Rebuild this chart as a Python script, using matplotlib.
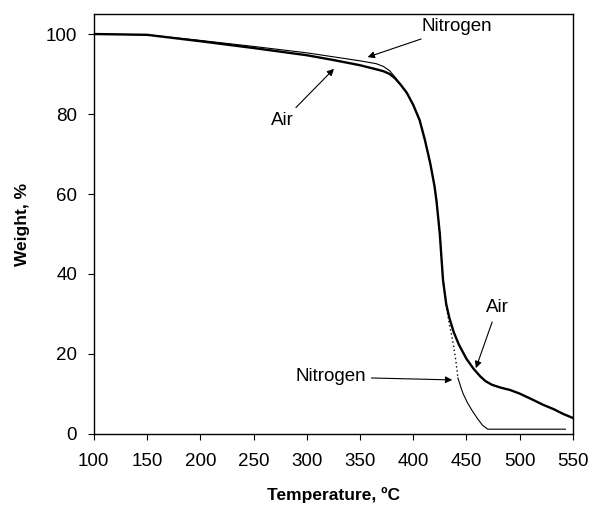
import matplotlib
matplotlib.use('Agg')
import matplotlib.pyplot as plt

plt.rcParams['font.family'] = ['Liberation Sans', 'DejaVu Sans']

# Air (thick line)
air_T = [100, 150, 200, 250, 300, 325, 350, 365, 372, 378, 383, 388, 394, 400, 406, 411, 416,
         420, 422, 425, 428, 431, 434, 438, 443, 450, 457, 463, 468, 474, 482, 491,
         500, 512, 522, 532, 541, 550]
air_W = [100, 99.8, 98.2, 96.5, 94.7, 93.5, 92.2, 91.2, 90.7, 90.0, 88.9, 87.4, 85.3, 82.3, 78.5, 73.5, 67.7,
         62.0, 58.0, 50.0, 38.5, 32.5, 29.0, 25.5, 22.3, 18.8, 16.2, 14.4, 13.2, 12.3, 11.6, 11.0,
         10.1, 8.6, 7.3, 6.2, 5.0, 4.0]

# Nitrogen (thin line, dotted where points are sparse)
n2_T = [100, 150, 200, 250, 300, 325, 350, 365, 372, 378, 383, 388, 394, 400, 406, 411, 416,
        420, 422, 425, 428, 431, 434, 437, 440, 442, 445, 447, 451, 455, 460, 465, 470, 480, 500, 543]
n2_W = [100, 99.8, 98.4, 96.9, 95.3, 94.3, 93.3, 92.6, 91.9, 90.8, 89.2, 87.4, 85.3, 82.3, 78.5, 73.5, 67.7,
        62.0, 58.0, 50.0, 38.5, 32.0, 27.5, 23.5, 18.5, 14.0, 11.5, 10.0, 7.8, 6.0, 4.0, 2.2, 1.2, 1.2, 1.2, 1.2]

x_ticks = [100, 150, 200, 250, 300, 350, 400, 450, 500, 550]
y_ticks = [0, 20, 40, 60, 80, 100]

fig = plt.figure(figsize=(5.9, 5.08), dpi=100)
ax = fig.add_axes([0.159, 0.1457, 0.812, 0.8267])

i1 = n2_T.index(425)
i2 = n2_T.index(442)
ax.plot(n2_T[:i1 + 1], n2_W[:i1 + 1], color='black', lw=0.8)
ax.plot(n2_T[i1:i2 + 1], n2_W[i1:i2 + 1], color='black', lw=1.0, ls=(0, (1, 2)))
ax.plot(n2_T[i2:], n2_W[i2:], color='black', lw=0.8)
ax.plot(air_T, air_W, color='black', lw=1.7)

ax.set_xlim(100, 550)
ax.set_ylim(0, 105)
ax.set_xticks(x_ticks)
ax.set_yticks(y_ticks)
ax.tick_params(direction='out', length=4, width=0.8, labelsize=13.5)
ax.tick_params(axis='x', pad=10)
ax.tick_params(axis='y', pad=8)
for s in ax.spines.values():
    s.set_linewidth(1.0)

ax.set_xlabel('Temperature, ºC', fontsize=12.5, fontweight='bold', labelpad=12)
ax.set_ylabel('Weight, %', fontsize=12.5, fontweight='bold', labelpad=11)

arr = dict(arrowstyle='-|>', color='black', lw=0.8, mutation_scale=10)
ax.annotate('Nitrogen', xy=(354.7, 94), xytext=(408, 101.8), fontsize=13.5,
            ha='left', va='center', arrowprops=arr)
ax.annotate('Air', xy=(327.4, 91.8), xytext=(277.6, 78.3), fontsize=13.5,
            ha='center', va='center', arrowprops=arr)
ax.annotate('Air', xy=(458, 15.8), xytext=(478.8, 31.5), fontsize=13.5,
            ha='center', va='center', arrowprops=arr)
ax.annotate('Nitrogen', xy=(439.3, 13.5), xytext=(355.6, 14.25), fontsize=13.5,
            ha='right', va='center', arrowprops=arr)

fig.savefig('out.png', dpi=100)
